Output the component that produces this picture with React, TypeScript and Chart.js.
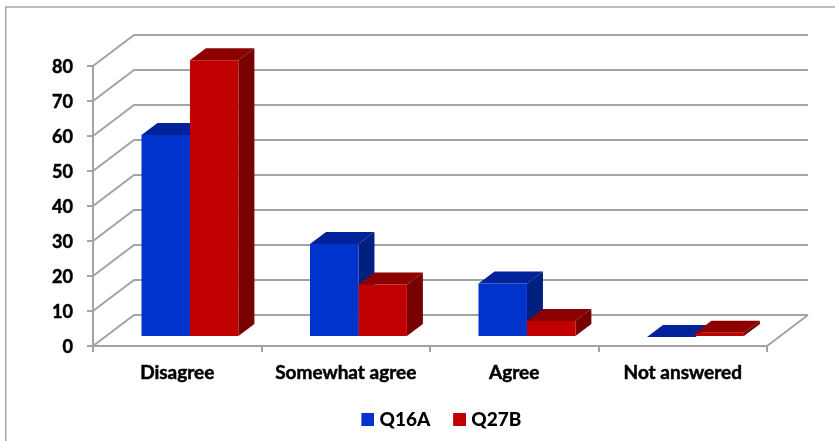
import React, { useEffect, useRef } from "react";
import { Chart, registerables } from "chart.js";

Chart.register(...registerables);

const categories = ["Disagree", "Somewhat agree", "Agree", "Not answered"];
const q16a = [57.7, 26.6, 15.3, 0];
const q27b = [79.1, 15, 4.6, 1.2];
const seriesNames = ["Q16A", "Q27B"];

const FONT = "Lato, Carlito, Calibri, sans-serif";
const GRID = "#a3a3a3";
const FRONT = ["#0033cc", "#c00000"];
const TOP = ["#00239c", "#8c0000"];
const SIDE = ["#002080", "#780000"];

const WALL_DX = 41;
const WALL_DY = -31;
const BAR_DX = 12.7;
const BAR_DY = -9;
const DEPTH_DX = 16;
const DEPTH_DY = -12;
const LEGEND_SHIFT = 58;

function swatch(color: string) {
  const c = document.createElement("canvas");
  c.width = 17;
  c.height = 13;
  const g = c.getContext("2d")!;
  g.fillStyle = color;
  g.fillRect(4, 0, 13, 13);
  return c;
}

const poly = (ctx: CanvasRenderingContext2D, pts: number[][], fill: string) => {
  ctx.beginPath();
  pts.forEach(([x, y], i) => (i ? ctx.lineTo(x, y) : ctx.moveTo(x, y)));
  ctx.closePath();
  ctx.fillStyle = fill;
  ctx.fill();
};

const frame3d = {
  id: "frame3d",
  afterLayout(chart: any) {
    chart.legend.left += LEGEND_SHIFT;
    chart.legend.right += LEGEND_SHIFT;
  },
  beforeDraw(chart: any) {
    const { ctx, chartArea: a, scales } = chart;
    ctx.save();
    ctx.strokeStyle = "#a6a6a6";
    ctx.lineWidth = 1.5;
    ctx.strokeRect(5.75, 7, 1000, 1000);
    ctx.strokeStyle = GRID;
    ctx.lineWidth = 2;
    for (const t of scales.y.ticks) {
      const y = scales.y.getPixelForValue(t.value);
      ctx.beginPath();
      ctx.moveTo(a.left, y);
      ctx.lineTo(a.left + WALL_DX, y + WALL_DY);
      ctx.lineTo(a.right + WALL_DX, y + WALL_DY);
      ctx.stroke();
    }
    ctx.beginPath();
    ctx.moveTo(a.right, a.bottom);
    ctx.lineTo(a.right + WALL_DX, a.bottom + WALL_DY);
    ctx.stroke();
    ctx.restore();
  },
  beforeDatasetsDraw(chart: any) {
    const { ctx } = chart;
    ctx.save();
    ctx.translate(BAR_DX, BAR_DY);
    categories.forEach((_, i) => {
      [0, 1].forEach((d) => {
        const bar = chart.getDatasetMeta(d).data[i];
        const p = bar.getProps(["x", "y", "base", "width"], true);
        const l = p.x - p.width / 2;
        const r = p.x + p.width / 2;
        poly(ctx, [[l, p.y], [r, p.y], [r + DEPTH_DX, p.y + DEPTH_DY], [l + DEPTH_DX, p.y + DEPTH_DY]], TOP[d]);
        poly(ctx, [[r, p.y], [r + DEPTH_DX, p.y + DEPTH_DY], [r + DEPTH_DX, p.base + DEPTH_DY], [r, p.base]], SIDE[d]);
      });
    });
  },
  afterDatasetsDraw(chart: any) {
    chart.ctx.restore();
  },
};

export default function App() {
  const ref = useRef<HTMLCanvasElement>(null);
  useEffect(() => {
    const chart = new Chart(ref.current!, {
      type: "bar",
      data: {
        labels: categories,
        datasets: [
          { label: seriesNames[0], data: q16a, backgroundColor: FRONT[0], clip: false } as any,
          { label: seriesNames[1], data: q27b, backgroundColor: FRONT[1], clip: false } as any,
        ],
      },
      options: {
        responsive: false,
        animation: false,
        layout: { padding: { left: 0, right: 68, top: 66, bottom: 2 } },
        datasets: { bar: { barPercentage: 1, categoryPercentage: 0.575 } },
        plugins: {
          tooltip: { enabled: false },
          legend: {
            position: "bottom",
            labels: {
              color: "#000",
              font: { family: FONT, size: 19, weight: "900" },
              usePointStyle: true,
              pointStyleWidth: 8.5,
              boxHeight: 13,
              padding: 23,
              generateLabels: () =>
                seriesNames.map((text, i) => ({
                  text,
                  datasetIndex: i,
                  pointStyle: swatch(FRONT[i]),
                  fillStyle: FRONT[i],
                  strokeStyle: FRONT[i],
                  lineWidth: 0,
                  fontColor: "#000",
                })),
            },
          },
        },
        scales: {
          x: {
            type: "category",
            afterFit: (s: any) => {
              s.height = 41;
              s.paddingLeft = 0;
              s.paddingRight = 0;
            },
            grid: { drawOnChartArea: false, drawTicks: true, tickLength: 6, color: GRID, lineWidth: 2 },
            border: { color: GRID, width: 2 },
            ticks: {
              color: "#000",
              font: { family: FONT, size: 19, weight: "bold" },
              padding: 9,
              maxRotation: 0,
              textStrokeColor: "#000",
              textStrokeWidth: 0.5,
            },
          },
          y: {
            min: 0,
            max: 80,
            afterFit: (s: any) => {
              s.width = 93;
              s.paddingTop = 0;
              s.paddingBottom = 0;
            },
            grid: { drawOnChartArea: false, drawTicks: true, tickLength: 6, color: GRID, lineWidth: 2 },
            border: { color: GRID, width: 2 },
            ticks: {
              stepSize: 10,
              color: "#000",
              font: { family: FONT, size: 18, weight: "bold" },
              padding: 14,
              labelOffset: 1.5,
              textStrokeColor: "#000",
              textStrokeWidth: 0.5,
            },
          },
        },
      },
      plugins: [frame3d],
    } as any);
    return () => chart.destroy();
  }, []);
  return (
    <div style={{ position: "fixed", left: 0, top: 0, width: 835, height: 441, background: "#fff" }}>
      <canvas ref={ref} width={835} height={441} style={{ display: "block" }} />
    </div>
  );
}
